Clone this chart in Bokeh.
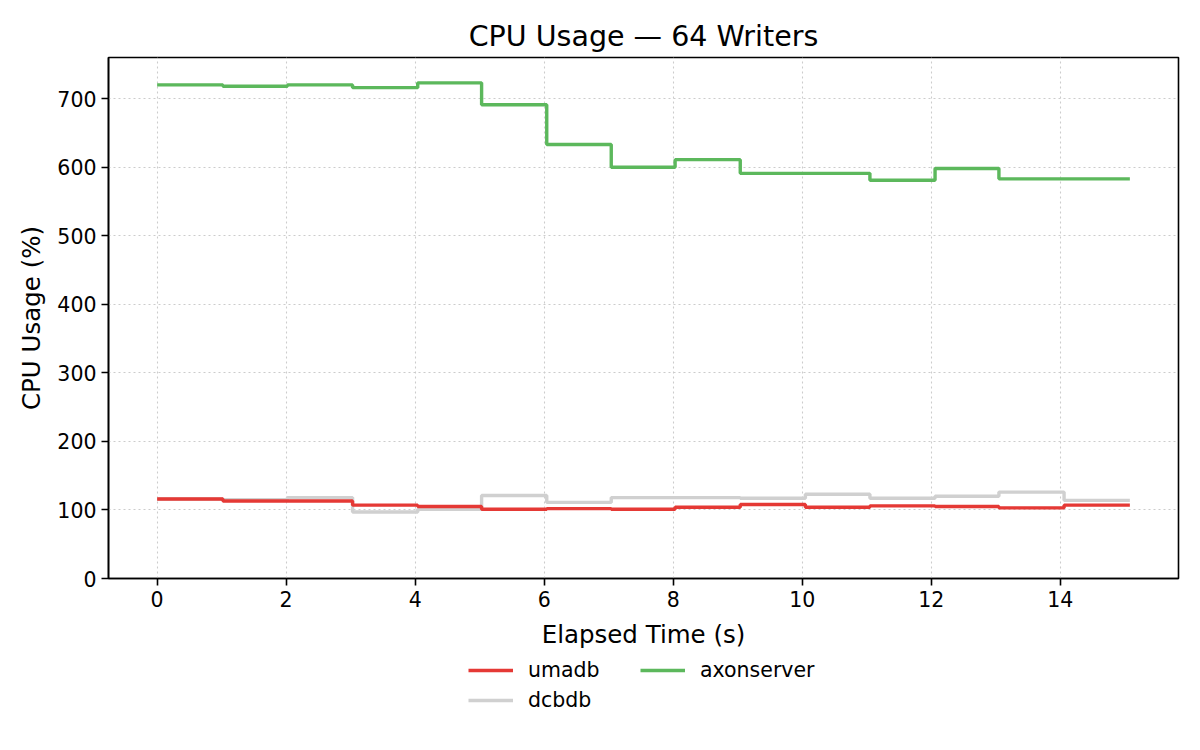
from bokeh.plotting import figure
from bokeh.models import Range1d, FixedTicker, Legend, LegendItem
from bokeh.layouts import column
from bokeh.embed import file_html
from bokeh.resources import INLINE

# ---- data ----
elapsed = [0.0, 1.02, 2.02, 3.03, 4.04, 5.03, 6.04, 7.04, 8.03, 9.04,
           10.05, 11.05, 12.06, 13.05, 14.06, 15.08]
umadb = [116, 113, 113, 107, 105, 101, 102, 101, 104, 108,
         104, 106, 105, 103, 107, 107]
dcbdb = [116, 115, 118, 97, 101, 121, 111, 118, 118, 117,
         123, 117, 120, 126, 114, 114]
axonserver = [720, 718, 720, 716, 723, 691, 633, 600, 611, 591,
              591, 581, 598, 583, 583, 583]
series_names = ["umadb", "dcbdb", "axonserver"]
series_colors = ["#e53935", "#d0d0d0", "#5cb85c"]
x_ticks = [0, 2, 4, 6, 8, 10, 12, 14]
y_ticks = [0, 100, 200, 300, 400, 500, 600, 700]

FONT = "DejaVu Sans"
LW = 3.4

p = figure(width=1184, height=655, output_backend="svg", toolbar_location=None,
           x_range=Range1d(-0.754, 15.834), y_range=Range1d(0, 760),
           min_border_left=108, min_border_right=6, min_border_top=57,
           min_border_bottom=77)

p.title.text = "CPU Usage \u2014 64 Writers"
p.title.align = "center"
p.title.text_font = FONT
p.title.text_font_size = "28.5px"
p.title.text_font_style = "normal"
p.title.text_color = "black"
p.title.standoff = 10

p.outline_line_color = "black"
p.outline_line_width = 1.6
p.outline_line_alpha = 1

p.xaxis.ticker = FixedTicker(ticks=x_ticks)
p.yaxis.ticker = FixedTicker(ticks=y_ticks)
p.xaxis.axis_label = "Elapsed Time (s)"
p.yaxis.axis_label = "CPU Usage (%)"
for ax in (p.xaxis, p.yaxis):
    ax.axis_label_text_font = FONT
    ax.axis_label_text_font_size = "24.5px"
    ax.axis_label_text_font_style = "normal"
    ax.axis_label_text_color = "black"
    ax.major_label_text_font = FONT
    ax.major_label_text_font_size = "20.5px"
    ax.major_label_text_color = "black"
    ax.axis_line_color = "black"
    ax.axis_line_width = 1.6
    ax.major_tick_line_color = "black"
    ax.major_tick_line_width = 1.6
    ax.major_tick_out = 7
    ax.major_tick_in = 0
    ax.minor_tick_line_color = None
    ax.major_label_standoff = 5
p.xaxis.axis_label_standoff = 10
p.yaxis.axis_label_standoff = 8

for g in (p.xgrid, p.ygrid):
    g.grid_line_color = "#cccccc"
    g.grid_line_width = 1.1
    g.grid_line_dash = "2 3"

series = {"umadb": umadb, "dcbdb": dcbdb, "axonserver": axonserver}
for name in ["dcbdb", "umadb", "axonserver"]:
    p.step(elapsed, series[name], mode="after",
           line_color=series_colors[series_names.index(name)], line_width=LW)

# legend strip below the chart (its frame lines up with the chart's frame);
# swatch renderers reuse the series but lie outside this strip's ranges
lg = figure(width=1184, height=79, output_backend="svg", toolbar_location=None,
            x_range=Range1d(0, 1), y_range=Range1d(0, 1),
            x_axis_type=None, y_axis_type=None, min_border=0)
lg.outline_line_color = None
lg.xgrid.visible = False
lg.ygrid.visible = False
swatch = {}
for name, col in zip(series_names, series_colors):
    swatch[name] = lg.step(elapsed, series[name], mode="after",
                           line_color=col, line_width=LW)

legend = Legend(items=[LegendItem(label="umadb", renderers=[swatch["umadb"]]),
                       LegendItem(label="axonserver", renderers=[swatch["axonserver"]]),
                       LegendItem(label="dcbdb", renderers=[swatch["dcbdb"]])],
                orientation="horizontal", nrows=2, location=(360, 22),
                glyph_width=45, glyph_height=20, label_standoff=15,
                label_width=106, spacing=6, label_text_font=FONT,
                label_text_font_size="20.5px", label_text_color="black",
                border_line_alpha=0, background_fill_alpha=0,
                padding=0, margin=0)
lg.add_layout(legend, "center")

layout = column(p, lg, spacing=0)
open("out.html", "w").write(file_html(layout, INLINE))
